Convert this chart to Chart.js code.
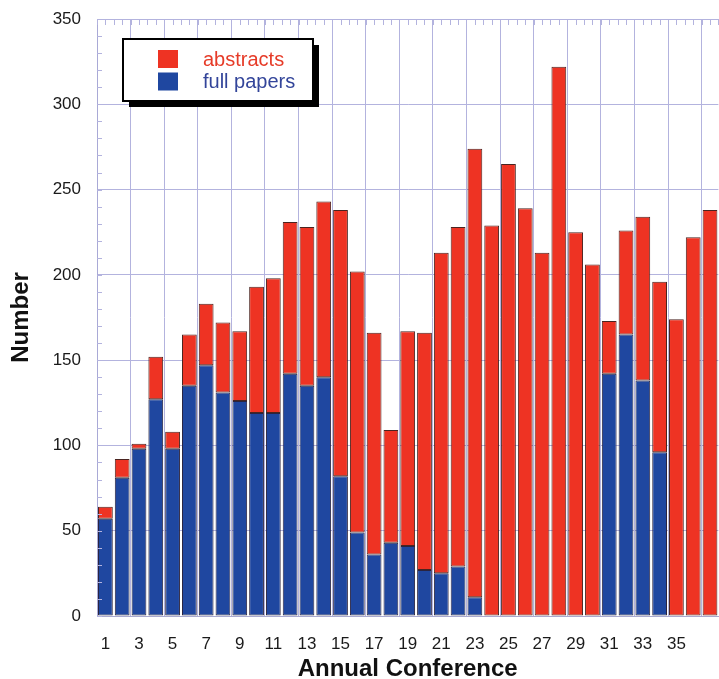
<!DOCTYPE html>
<html>
<head>
<meta charset="utf-8">
<script src="https://cdn.jsdelivr.net/npm/chart.js@4.4.1/dist/chart.umd.min.js"></script>
<style>
  html, body { margin: 0; padding: 0; background: #ffffff; overflow: hidden; }
  #wrap { width: 728px; height: 679px; }
</style>
</head>
<body>
<div id="wrap"><canvas id="c" width="728" height="679" style="width:728px;height:679px"></canvas></div>
<script>
// ---- data ----
const categories = ['1','2','3','4','5','6','7','8','9','10','11','12','13','14','15','16','17','18','19',
  '20','21','22','23','24','25','26','27','28','29','30','31','32','33','34','35','36','37'];
const xTickLabels = ['1','','3','','5','','7','','9','','11','','13','','15','','17','','19',
  '','21','','23','','25','','27','','29','','31','','33','','35','',''];
const fullPapers = [57,81,98,127,98,135,147,131,126,119,119,142,135,140,82,49,36,43,41,
  27,25,29,11,0,0,0,0,0,0,0,142,165,138,96,0,0,0];
const abstracts = [7,11,3,25,10,30,36,41,41,74,79,89,93,103,156,153,130,66,126,
  139,188,199,263,229,265,239,213,322,225,206,31,61,96,100,174,222,238];
const yTicks = [0,50,100,150,200,250,300,350];

const RED = '#ee3323';
const BLUE = '#1f47a0';
const GRID = '#b3b3de';
const FONT = '"Liberation Sans", Arial, Helvetica, sans-serif';

const minorTicks = {
  id: 'minorTicks',
  afterDraw(chart) {
    const {ctx, chartArea} = chart;
    const x = chart.scales.x, y = chart.scales.y;
    ctx.save();
    ctx.strokeStyle = GRID;
    ctx.lineWidth = 1;
    const n = categories.length;
    const step = (x.getPixelForValue(1) - x.getPixelForValue(0));
    const left = x.getPixelForValue(0) - step / 2;
    ctx.beginPath();
    for (let i = 0; i <= n * 2; i++) {
      const px = Math.round(left + i * step / 2) + 0.5;
      ctx.moveTo(px, chartArea.top);
      ctx.lineTo(px, chartArea.top + 6);
    }
    for (let v = 0; v <= yTicks[yTicks.length - 1]; v += 10) {
      const py = Math.round(y.getPixelForValue(v)) + 0.5;
      ctx.moveTo(chartArea.left, py);
      ctx.lineTo(chartArea.left + 5, py);
    }
    ctx.stroke();
    ctx.restore();
  }
};

const boxLegend = {
  id: 'boxLegend',
  afterDraw(chart) {
    const ctx = chart.ctx;
    const bx = 123, by = 39, bw = 190, bh = 62;
    ctx.save();
    ctx.fillStyle = '#000';
    ctx.fillRect(bx + 6, by + 6, bw, bh);
    ctx.fillStyle = '#fff';
    ctx.fillRect(bx, by, bw, bh);
    ctx.lineWidth = 2;
    ctx.strokeStyle = '#000';
    ctx.strokeRect(bx, by, bw, bh);
    const items = chart.data.datasets.slice().reverse();
    const textColors = {abstracts: '#e63b28', 'full papers': '#33459a'};
    items.forEach((ds, i) => {
      const cy = 59 + i * 22.5;
      ctx.fillStyle = ds.backgroundColor;
      ctx.fillRect(158, cy - 9, 20, 18);
      ctx.fillStyle = textColors[ds.label] || ds.backgroundColor;
      ctx.font = '20px ' + FONT;
      ctx.textBaseline = 'middle';
      ctx.textAlign = 'left';
      ctx.fillText(ds.label, 203, cy + 1);
    });
    ctx.restore();
  }
};

new Chart(document.getElementById('c'), {
  type: 'bar',
  data: {
    labels: categories,
    datasets: [
      {
        label: 'full papers',
        data: fullPapers,
        backgroundColor: BLUE,
        borderColor: '#2a2440',
        borderWidth: (c) => (c.raw ? 1 : 0),
        borderSkipped: false,
        barPercentage: 0.88,
        categoryPercentage: 1.0
      },
      {
        label: 'abstracts',
        data: abstracts,
        backgroundColor: RED,
        borderColor: '#4a2420',
        borderWidth: (c) => (c.raw ? 1 : 0),
        borderSkipped: false,
        barPercentage: 0.88,
        categoryPercentage: 1.0
      }
    ]
  },
  options: {
    responsive: false,
    animation: false,
    layout: { padding: { top: 19, left: 0, right: 0, bottom: 0 } },
    plugins: {
      legend: { display: false },
      tooltip: { enabled: false }
    },
    scales: {
      x: {
        stacked: true,
        offset: true,
        afterFit: (s) => { s.height = 63; },
        grid: {
          offset: true,
          drawTicks: false,
          color: (c) => (c.index % 2 === 0 ? GRID : 'rgba(0,0,0,0)'),
          lineWidth: 1
        },
        border: { color: '#a9a9cf', width: 1 },
        ticks: {
          autoSkip: false,
          maxRotation: 0,
          padding: 18,
          color: '#1a1a1a',
          font: { family: FONT, size: 17 },
          callback: (v, i) => xTickLabels[i]
        },
        title: {
          display: true,
          text: 'Annual Conference',
          color: '#111',
          padding: { top: 0, bottom: 0 },
          font: { family: FONT, size: 24, weight: 'bold', lineHeight: 0.84 }
        }
      },
      y: {
        stacked: true,
        min: 0,
        max: 350,
        afterFit: (s) => { s.width = 97; s.paddingTop = 0; s.paddingBottom = 0; },
        afterBuildTicks: (s) => { s.ticks = yTicks.map(v => ({ value: v })); },
        grid: { drawTicks: false, color: GRID, lineWidth: 1 },
        border: { color: '#a9a9d6', width: 1 },
        ticks: {
          padding: 16,
          color: '#1a1a1a',
          font: { family: FONT, size: 17, lineHeight: 0.2 }
        },
        title: {
          display: true,
          text: 'Number',
          color: '#111',
          padding: { top: 7, bottom: 0 },
          font: { family: FONT, size: 24, weight: 'bold' }
        }
      }
    }
  },
  plugins: [minorTicks, boxLegend]
});
</script>
</body>
</html>
